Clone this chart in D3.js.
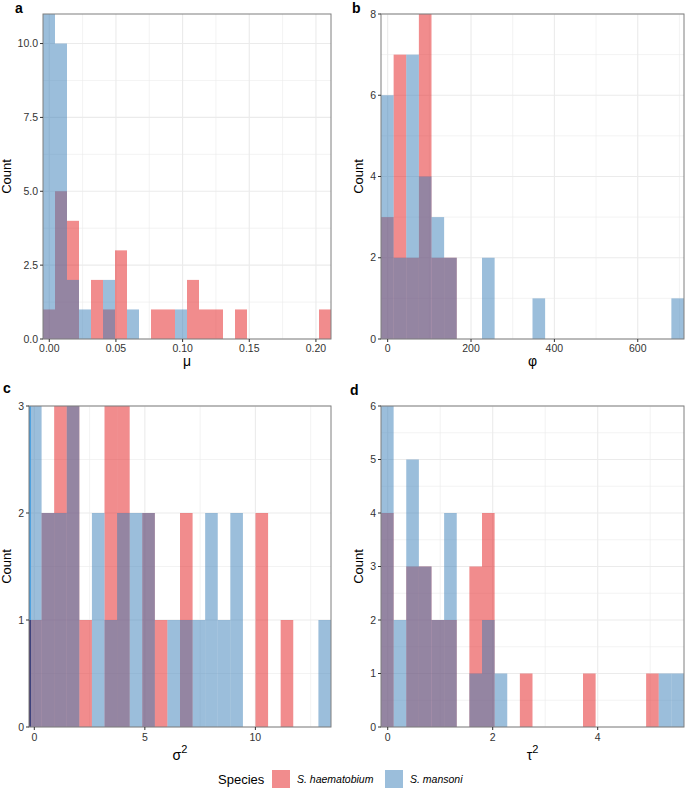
<!DOCTYPE html>
<html><head><meta charset="utf-8">
<script src="https://cdn.jsdelivr.net/npm/d3@7"></script>
<style>body{margin:0;background:#fff}svg{display:block}</style>
</head><body>
<svg id="chart" width="685" height="790"></svg>
<script>
// ---- data (counts per histogram bin, 24 bins per panel) ----
const species = ["S. haematobium", "S. mansoni"];
const muRed   = [1,5,4,0,2,1,3,0,0,1,1,0,2,1,1,0,1,0,0,0,0,0,0,1];
const muBlue  = [11,10,2,1,0,2,0,1,0,0,0,1,0,0,0,0,0,0,0,0,0,0,0,0];
const phiRed  = [3,7,2,8,2,2,0,0,0,0,0,0,0,0,0,0,0,0,0,0,0,0,0,0];
const phiBlue = [6,2,7,4,3,2,0,0,2,0,0,0,1,0,0,0,0,0,0,0,0,0,0,1];
const sigRed  = [1,2,3,3,1,0,3,3,0,2,1,0,2,0,0,0,0,0,2,0,1,0,0,0];
const sigBlue = [3,2,2,3,0,2,1,2,2,2,0,1,1,1,2,1,2,0,0,0,0,0,0,1];
const tauRed  = [4,0,3,3,2,2,0,3,4,0,0,1,0,0,0,0,1,0,0,0,0,1,0,0];
const tauBlue = [6,2,5,3,2,4,0,1,2,1,0,0,0,0,0,0,0,0,0,0,0,0,1,1];

const muXTicks = [0,0.05,0.10,0.15,0.20], muXLabels = ["0.00","0.05","0.10","0.15","0.20"];
const muYTicks = [0,2.5,5,7.5,10], muYLabels = ["0.0","2.5","5.0","7.5","10.0"];
const phiXTicks = [0,200,400,600], phiYTicks = [0,2,4,6,8];
const sigXTicks = [0,5,10], sigYTicks = [0,1,2,3];
const tauXTicks = [0,2,4], tauYTicks = [0,1,2,3,4,5,6];

const panels = [
  {label:"a", red:muRed, blue:muBlue, xDom:[-0.0047,0.2113], yDom:[0,11],
   xt:muXTicks, xl:muXLabels, yt:muYTicks, yl:muYLabels, xMinor:[0.025,0.075,0.125,0.175], yMinor:[1.25,3.75,6.25,8.75],
   title:"μ", sup:null, box:[43,331,14,339], lab:[15,13], cnt:10.5, tlY:352, ttlY:366},
  {label:"b", red:phiRed, blue:phiBlue, xDom:[-16,711], yDom:[0,8],
   xt:phiXTicks, xl:phiXTicks.map(String), yt:phiYTicks, yl:phiYTicks.map(String), xMinor:[100,300,500,700], yMinor:[1,3,5,7],
   title:"φ", sup:null, box:[381,684,14,339], lab:[352,13], cnt:362.5, tlY:352, ttlY:366},
  {label:"c", red:sigRed, blue:sigBlue, xDom:[-0.24,13.42], yDom:[0,3],
   xt:sigXTicks, xl:sigXTicks.map(String), yt:sigYTicks, yl:sigYTicks.map(String), xMinor:[2.5,7.5,12.5], yMinor:[0.5,1.5,2.5],
   title:"σ", sup:"2", box:[29,331,406,727], lab:[3,393], cnt:10.5, tlY:741, ttlY:760, strip:true},
  {label:"d", red:tauRed, blue:tauBlue, xDom:[-0.128,5.644], yDom:[0,6],
   xt:tauXTicks, xl:tauXTicks.map(String), yt:tauYTicks, yl:tauYTicks.map(String), xMinor:[1,3,5], yMinor:[0.5,1.5,2.5,3.5,4.5,5.5],
   title:"τ", sup:"2", box:[381,684,406,727], lab:[350,395], cnt:363, tlY:741, ttlY:760}
];

const colRed = "#E41A1C", colBlue = "#377EB8", alpha = 0.5;
const font = "'Liberation Sans', Arial, Helvetica, sans-serif";
const svg = d3.select("#chart");

panels.forEach((p, pi) => {
  const [l, r, t, b] = p.box;
  const x = d3.scaleLinear().domain(p.xDom).range([l, r]);
  const y = d3.scaleLinear().domain(p.yDom).range([b, t]);
  const n = p.red.length;
  const w = (p.xDom[1] - p.xDom[0]) / n;
  const g = svg.append("g");
  const clipId = "clip" + pi;
  g.append("clipPath").attr("id", clipId).append("rect")
    .attr("x", l).attr("y", t).attr("width", r - l).attr("height", b - t);

  // gridlines
  const grid = g.append("g");
  grid.selectAll(".xmin").data(p.xMinor.filter(v => v >= p.xDom[0] && v <= p.xDom[1])).join("line")
    .attr("x1", d => x(d)).attr("x2", d => x(d)).attr("y1", t).attr("y2", b)
    .attr("stroke", "#EBEBEB").attr("stroke-width", 0.6);
  grid.selectAll(".ymin").data(p.yMinor).join("line")
    .attr("y1", d => y(d)).attr("y2", d => y(d)).attr("x1", l).attr("x2", r)
    .attr("stroke", "#EBEBEB").attr("stroke-width", 0.6);
  grid.selectAll(".xmaj").data(p.xt).join("line")
    .attr("x1", d => x(d)).attr("x2", d => x(d)).attr("y1", t).attr("y2", b)
    .attr("stroke", "#EBEBEB").attr("stroke-width", 1.1);
  grid.selectAll(".ymaj").data(p.yt).join("line")
    .attr("y1", d => y(d)).attr("y2", d => y(d)).attr("x1", l).attr("x2", r)
    .attr("stroke", "#EBEBEB").attr("stroke-width", 1.1);

  // bars
  const bars = g.append("g").attr("clip-path", `url(#${clipId})`);
  [[p.red, colRed], [p.blue, colBlue]].forEach(([vals, col]) => {
    bars.append("g").selectAll("rect").data(vals.map((v, i) => ({v, i})).filter(d => d.v > 0)).join("rect")
      .attr("x", d => x(p.xDom[0] + d.i * w))
      .attr("width", d => x(p.xDom[0] + (d.i + 1) * w) - x(p.xDom[0] + d.i * w))
      .attr("y", d => y(d.v)).attr("height", d => y(0) - y(d.v))
      .attr("fill", col).attr("fill-opacity", alpha);
  });
  if (p.strip) {
    // thin overdrawn sliver of the first bin at the left edge
    bars.append("rect").attr("x", l).attr("width", 1.8)
      .attr("y", y(p.blue[0])).attr("height", y(0) - y(p.blue[0]))
      .attr("fill", "#3C9BE0");
    bars.append("rect").attr("x", l).attr("width", 1.8)
      .attr("y", y(p.red[0])).attr("height", y(0) - y(p.red[0]))
      .attr("fill", "#3B2E66");
  }

  // border
  g.append("rect").attr("x", l).attr("y", t).attr("width", r - l).attr("height", b - t)
    .attr("fill", "none").attr("stroke", "#7F7F7F").attr("stroke-width", 1);

  // ticks
  g.selectAll(".xt").data(p.xt).join("line")
    .attr("x1", d => x(d)).attr("x2", d => x(d)).attr("y1", b).attr("y2", b + 3)
    .attr("stroke", "#333").attr("stroke-width", 1);
  g.selectAll(".yt").data(p.yt).join("line")
    .attr("y1", d => y(d)).attr("y2", d => y(d)).attr("x1", l - 3).attr("x2", l)
    .attr("stroke", "#333").attr("stroke-width", 1);
  g.selectAll(".xtl").data(p.xt).join("text")
    .attr("x", (d) => x(d)).attr("y", p.tlY).attr("text-anchor", "middle")
    .attr("font-family", font).attr("font-size", 10.5).attr("fill", "#333")
    .text((d, i) => p.xl[i]);
  g.selectAll(".ytl").data(p.yt).join("text")
    .attr("x", l - 5).attr("y", d => y(d) + 3.5).attr("text-anchor", "end")
    .attr("font-family", font).attr("font-size", 10.5).attr("fill", "#333")
    .text((d, i) => p.yl[i]);

  // titles
  g.append("text").attr("transform", `translate(${p.cnt},${(t + b) / 2}) rotate(-90)`)
    .attr("text-anchor", "middle").attr("font-family", font).attr("font-size", 13).attr("fill", "#000")
    .text("Count");
  const xt = g.append("text").attr("x", (l + r) / 2).attr("y", p.ttlY).attr("text-anchor", "middle")
    .attr("font-family", font).attr("font-size", 14).attr("fill", "#000");
  xt.append("tspan").text(p.title);
  if (p.sup) xt.append("tspan").attr("dy", -7).attr("font-size", 11).text(p.sup);
  g.append("text").attr("x", p.lab[0]).attr("y", p.lab[1])
    .attr("font-family", font).attr("font-size", 14).attr("font-weight", "bold").text(p.label);
});

// legend
const leg = svg.append("g");
leg.append("text").attr("x", 218).attr("y", 784).attr("font-family", font).attr("font-size", 13).text("Species");
const legItems = [{name: species[0], col: colRed, x: 272}, {name: species[1], col: colBlue, x: 385}];
legItems.forEach(it => {
  leg.append("rect").attr("x", it.x).attr("y", 770).attr("width", 18).attr("height", 18)
    .attr("fill", it.col).attr("fill-opacity", alpha);
  leg.append("text").attr("x", it.x + 25).attr("y", 783).attr("font-family", font)
    .attr("font-size", 10.5).attr("font-style", "italic").text(it.name);
});
</script>
</body></html>
